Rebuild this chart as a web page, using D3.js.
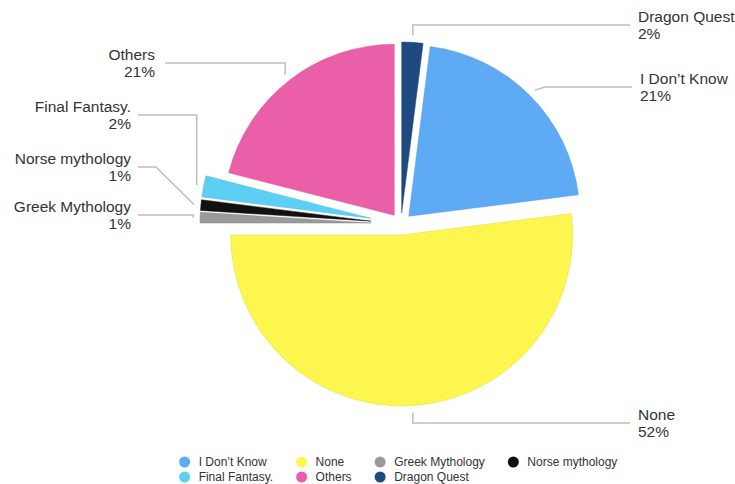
<!DOCTYPE html>
<html>
<head>
<meta charset="utf-8">
<script src="https://cdn.jsdelivr.net/npm/d3@7"></script>
<style>
  html, body { margin: 0; padding: 0; background: #fff; }
  svg { display: block; font-family: "Liberation Sans", Arial, Helvetica, sans-serif; }
</style>
</head>
<body>
<svg id="chart" width="735" height="484"></svg>
<script>
// Survey answers, in drawing order (clockwise, ending at 12 o'clock)
const categories = ["I Don’t Know", "None", "Greek Mythology", "Norse mythology", "Final Fantasy.", "Others", "Dragon Quest"];
const values = [21, 52, 1, 1, 2, 21, 2];

// Slice colours
const sliceColors = ["#5eaaf5", "#fdf64f", "#9a9a9a", "#111111", "#5ccff4", "#ea5fa7", "#1f4a80"];

// Pull-out distance of each wedge
const explodeSmall = ["Greek Mythology", "Norse mythology", "Final Fantasy."];
const explodeSmallDist = 30, explodeDist = 11;

// Callout layout: y of the horizontal leader, x where it ends, and elbow shift
const calloutLayout = {
  "Dragon Quest":    { lineY: 25,  endX: 630, elbowDx: 0 },
  "I Don’t Know":    { lineY: 87,  endX: 632, elbowDx: 10 },
  "None":            { lineY: 423, endX: 630, elbowDx: 0 },
  "Others":          { lineY: 63,  endX: 165, elbowDx: 0 },
  "Final Fantasy.":  { lineY: 115, endX: 138, elbowDx: 0 },
  "Norse mythology": { lineY: 167, endX: 138, elbowDx: -38 },
  "Greek Mythology": { lineY: 215, endX: 138, elbowDx: 0 }
};

const svg = d3.select("#chart");
const cx = 401, cy = 224, radius = 171;

const total = d3.sum(values);
const color = d3.scaleOrdinal().domain(categories).range(sliceColors);

// Rotate so the last wedge closes at 12 o'clock
const offset = 2 * Math.PI * values[values.length - 1] / total;
const pie = d3.pie().sort(null).value(d => d.value)
  .startAngle(offset).endAngle(offset + 2 * Math.PI);
const data = categories.map((c, i) => ({ name: c, value: values[i] }));
const arcs = pie(data);
const arc = d3.arc().innerRadius(0).outerRadius(radius);

function apexOf(a) {
  const mid = (a.startAngle + a.endAngle) / 2;
  const d = explodeSmall.includes(a.data.name) ? explodeSmallDist : explodeDist;
  return [cx + d * Math.sin(mid), cy - d * Math.cos(mid)];
}

const g = svg.append("g");
g.selectAll("path.slice")
  .data(arcs)
  .join("path")
  .attr("class", "slice")
  .attr("transform", a => `translate(${apexOf(a)})`)
  .attr("d", arc)
  .attr("fill", a => color(a.data.name))
  .attr("stroke", a => d3.color(color(a.data.name)).darker(0.35))
  .attr("stroke-opacity", 0.45)
  .attr("stroke-width", 1);

// Callouts
const callouts = svg.append("g");
arcs.forEach(a => {
  const lay = calloutLayout[a.data.name];
  const [ax, ay] = apexOf(a);
  const mid = (a.startAngle + a.endAngle) / 2;
  const rr = radius + 7;
  const start = [ax + rr * Math.sin(mid), ay - rr * Math.cos(mid)];
  const elbow = [start[0] + lay.elbowDx, lay.lineY];
  const end = [lay.endX, lay.lineY];
  callouts.append("path")
    .attr("d", d3.line()([start, elbow, end]))
    .attr("fill", "none")
    .attr("stroke", "#bdbdbd")
    .attr("stroke-width", 1.5);

  const right = lay.endX > cx;
  const tx = right ? lay.endX + 8 : lay.endX - (a.data.name === "Others" ? 10 : 7);
  const t = callouts.append("text")
    .attr("x", tx)
    .attr("y", lay.lineY - 3)
    .attr("text-anchor", right ? "start" : "end")
    .attr("font-size", 15.5)
    .attr("fill", "#333");
  t.append("tspan").attr("x", tx).text(a.data.name);
  t.append("tspan").attr("x", tx).attr("dy", 17)
    .text(Math.round(a.data.value / total * 100) + "%");
});

// Legend: 4 columns, filled row by row
const cols = 4, rowY = [462, 477], dotR = 5.5, textGap = 14, colGap = 23, legendFont = 12;
const legend = svg.append("g");
const items = categories.map((c, i) => ({ name: c, col: i % cols, row: Math.floor(i / cols) }));
const temp = legend.append("g");
const widths = items.map(it => {
  const t = temp.append("text").attr("font-size", legendFont).text(it.name);
  return t.node().getComputedTextLength();
});
temp.remove();
const colW = d3.range(cols).map(c => d3.max(items.filter(it => it.col === c), it => widths[items.indexOf(it)]));
const colX = [];
let acc = 0;
colW.forEach((w, i) => { colX.push(acc); acc += dotR + textGap + w + (i < cols - 1 ? colGap : 0); });
const legendW = acc + dotR;
const lx0 = cx - legendW / 2;

items.forEach(it => {
  const x = lx0 + dotR + colX[it.col];
  const y = rowY[it.row];
  legend.append("circle")
    .attr("cx", x).attr("cy", y).attr("r", dotR)
    .attr("fill", color(it.name));
  legend.append("text")
    .attr("x", x + textGap).attr("y", y + 4.2)
    .attr("font-size", legendFont)
    .attr("fill", "#333")
    .text(it.name);
});
</script>
</body>
</html>
